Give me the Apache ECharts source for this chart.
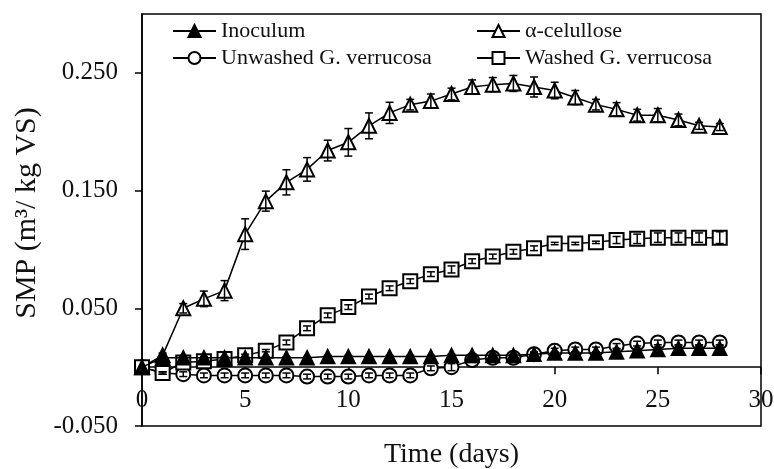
<!DOCTYPE html>
<html>
<head>
<meta charset="utf-8">
<script src="https://cdn.jsdelivr.net/npm/echarts@6/dist/echarts.min.js"></script>
<style>html,body{margin:0;padding:0;background:#fff}#c{width:774px;height:469px}</style>
</head>
<body>
<div id="c"></div>
<script>
const days = [0,1,2,3,4,5,6,7,8,9,10,11,12,13,14,15,16,17,18,19,20,21,22,23,24,25,26,27,28];
const xTicks = [0,5,10,15,20,25,30];
const yTicks = [-0.05,0.05,0.15,0.25];

const inoculum = [0,0.008,0.008,0.008,0.008,0.008,0.008,0.008,0.008,0.009,0.009,0.009,0.009,0.009,0.009,0.010,0.010,0.010,0.010,0.011,0.012,0.012,0.012,0.013,0.014,0.015,0.016,0.016,0.016];
const inoculumErr = [0,0.001,0.001,0.001,0.001,0.001,0.001,0.001,0.001,0.001,0.001,0.001,0.001,0.001,0.001,0.001,0.001,0.001,0.001,0.001,0.001,0.001,0.001,0.002,0.002,0.002,0.002,0.002,0.002];

const cellulose = [0,0.010,0.050,0.058,0.065,0.113,0.141,0.157,0.168,0.184,0.191,0.205,0.216,0.223,0.226,0.232,0.238,0.240,0.241,0.238,0.235,0.229,0.223,0.219,0.214,0.214,0.210,0.205,0.204];
const celluloseErr = [0,0.002,0.004,0.0066,0.0085,0.013,0.0085,0.0107,0.010,0.0088,0.0117,0.011,0.009,0.0045,0.006,0.005,0.006,0.006,0.0068,0.0085,0.007,0.006,0.0045,0.0057,0.005,0.0057,0.005,0.003,0.003];

const unwashed = [0,-0.005,-0.006,-0.007,-0.007,-0.007,-0.007,-0.007,-0.008,-0.008,-0.008,-0.007,-0.007,-0.007,-0.001,0.000,0.006,0.008,0.008,0.011,0.014,0.015,0.015,0.018,0.020,0.021,0.021,0.021,0.021];
const unwashedErr = [0,0.001,0.002,0.002,0.002,0.002,0.002,0.002,0.002,0.002,0.002,0.002,0.002,0.002,0.002,0.003,0.002,0.002,0.002,0.002,0.002,0.002,0.002,0.002,0.002,0.002,0.002,0.002,0.002];

const washed = [0,-0.005,0.004,0.005,0.007,0.010,0.014,0.021,0.033,0.044,0.051,0.060,0.067,0.073,0.079,0.083,0.090,0.094,0.098,0.101,0.105,0.105,0.106,0.108,0.109,0.110,0.110,0.110,0.110];
const washedErr = [0,0.001,0.001,0.001,0.001,0.001,0.001,0.002,0.002,0.002,0.002,0.002,0.002,0.002,0.002,0.003,0.002,0.002,0.002,0.002,0.001,0.001,0.001,0.003,0.004,0.004,0.004,0.004,0.005];

const FONT = 'Liberation Serif';
const INK = '#111';
const Y_MIN = -0.05, Y_MAX = 0.3;
const GRID = {left: 142, right: 13, top: 14, bottom: 43};
const CHART_H = 469;

function pairs(vals){ return days.map((d,i)=>[d, vals[i]]); }
function triples(vals, errs){ return days.map((d,i)=>[d, vals[i], errs[i]]); }

function lineSeries(name, vals, symbol, z){
  return {
    name: name, type: 'line', data: pairs(vals),
    symbol: symbol, symbolSize: 14, z: z,
    lineStyle: {color: '#000', width: 1.5},
    itemStyle: {color: '#000', borderColor: '#000', borderWidth: 1.6},
    emphasis: {disabled: true},
    animation: false
  };
}
function errSeries(vals, errs, z){
  return {
    type: 'custom', data: triples(vals, errs), z: z, silent: true, animation: false,
    renderItem: function(params, api){
      const x = api.value(0), y = api.value(1), e = api.value(2);
      if (!e) return null;
      const hi = api.coord([x, y + e]);
      const lo = api.coord([x, y - e]);
      const w = 4;
      const st = {stroke: '#000', lineWidth: 1.5};
      return {type: 'group', children: [
        {type: 'line', shape: {x1: hi[0], y1: hi[1], x2: lo[0], y2: lo[1]}, style: st},
        {type: 'line', shape: {x1: hi[0]-w, y1: hi[1], x2: hi[0]+w, y2: hi[1]}, style: st},
        {type: 'line', shape: {x1: lo[0]-w, y1: lo[1], x2: lo[0]+w, y2: lo[1]}, style: st}
      ]};
    }
  };
}

// distance from grid bottom up to the y=0 line, so the x axis sits at zero
const plotH = CHART_H - GRID.top - GRID.bottom;
const zeroOffset = -plotH * (0 - Y_MIN) / (Y_MAX - Y_MIN);

const chart = echarts.init(document.getElementById('c'), null, {renderer: 'canvas'});
const legendCommon = {
  orient: 'vertical', itemWidth: 43, itemHeight: 15, itemGap: 5, padding: 0,
  textStyle: {fontFamily: FONT, fontSize: 22, color: INK, lineHeight: 22},
  selectedMode: false
};
chart.setOption({
  animation: false,
  backgroundColor: '#fff',
  grid: Object.assign({containLabel: false, outerBoundsMode: 'none',
    show: true, borderColor: '#000', borderWidth: 1.5, backgroundColor: 'transparent'}, GRID),
  legend: [
    Object.assign({left: 172, top: 20, data: ['Inoculum', 'Unwashed G. verrucosa']}, legendCommon),
    Object.assign({left: 476, top: 20, data: ['α-celullose', 'Washed G. verrucosa']}, legendCommon)
  ],
  xAxis: {
    type: 'value', min: 0, max: 30, interval: 5, position: 'bottom', offset: zeroOffset,
    axisLine: {onZero: false, lineStyle: {color: '#000', width: 1.5}},
    axisTick: {show: true, inside: false, length: 7, lineStyle: {color: '#000', width: 1.5}, customValues: xTicks},
    axisLabel: {fontFamily: FONT, fontSize: 25, color: INK, margin: 21, customValues: xTicks},
    splitLine: {show: false},
    name: 'Time (days)', nameLocation: 'middle', nameGap: 73,
    nameTextStyle: {fontFamily: FONT, fontSize: 28, color: INK}
  },
  yAxis: {
    type: 'value', min: Y_MIN, max: Y_MAX, interval: 0.1,
    axisLine: {show: true, onZero: false, lineStyle: {color: '#000', width: 1.5}},
    axisTick: {show: true, inside: false, length: 7, lineStyle: {color: '#000', width: 1.5}, customValues: yTicks},
    axisLabel: {fontFamily: FONT, fontSize: 25, color: INK, margin: 24, customValues: yTicks,
      formatter: v => v.toFixed(3)},
    splitLine: {show: false},
    name: 'SMP (m³/ kg VS)', nameLocation: 'middle', nameGap: 98,
    nameTextStyle: {fontFamily: FONT, fontSize: 30, color: INK, padding: [0, 0, 0, 14]}
  },
  series: [
    lineSeries('Inoculum', inoculum, 'triangle', 8),
    lineSeries('α-celullose', cellulose, 'emptyTriangle', 5),
    lineSeries('Unwashed G. verrucosa', unwashed, 'emptyCircle', 6),
    lineSeries('Washed G. verrucosa', washed, 'emptyRect', 7),
    errSeries(cellulose, celluloseErr, 9),
    errSeries(washed, washedErr, 9),
    errSeries(unwashed, unwashedErr, 9),
    errSeries(inoculum, inoculumErr, 9)
  ]
});
</script>
</body>
</html>
